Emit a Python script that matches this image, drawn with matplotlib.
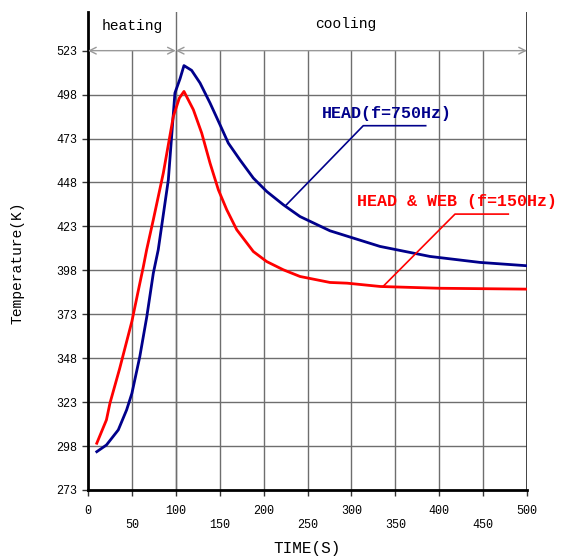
import matplotlib.pyplot as plt
import numpy as np

# readings from the reference
head_t = [10, 21, 34.5, 44, 50, 59, 67, 74.4, 80, 91.5, 99, 104.8, 109.3, 118,
          127.6, 139, 150.3, 159.8, 173, 188.3, 203.5, 222.5, 241.5, 275.6,
          332.6, 389.5, 446.5, 500]
head_T = [294.8, 298.6, 307.2, 318.6, 328, 348.9, 371.7, 396.4, 409.7, 449.5,
          498.9, 507, 514.5, 511.8, 504.6, 493.2, 480.9, 470.4, 460.9, 450.5,
          442.9, 435.3, 428.6, 420.5, 411.6, 405.9, 402.5, 400.6]
web_t = [10, 21, 25, 36, 50, 57.3, 63, 66.8, 74.4, 85.8, 97.2, 104, 109.3, 120,
         129.5, 139, 148.5, 158, 169.4, 188.3, 203.5, 222.5, 241.5, 275.6, 295,
         333, 400, 500]
web_T = [299.6, 312.9, 322.4, 342, 369, 386.5, 400, 409.7, 426.8, 453.4, 485.6,
         496, 499.8, 489.4, 476.1, 459, 443.8, 432.5, 421.1, 408.7, 403, 398.3,
         394.5, 391.1, 390.7, 388.8, 387.8, 387.3]

x_ticks = np.arange(0, 501, 50)
y_ticks = np.arange(273, 524, 25)

mono = ["Liberation Mono", "DejaVu Sans Mono"]
grid_c = "#6e6e6e"
navy = "#00008b"
red = "#ff0000"

fig = plt.figure(figsize=(5.63, 5.56), dpi=100)
ax = fig.add_axes([88 / 563, 66 / 556, (527 - 88) / 563, (490 - 12) / 556])
ax.set_xlim(0, 500)
ax.set_ylim(273, 545)

# grid
for xv in x_ticks[1:-1]:
    ax.plot([xv, xv], [273, 523], color=grid_c, lw=1, zorder=1)
for yv in y_ticks[1:-1]:
    ax.plot([0, 500], [yv, yv], color=grid_c, lw=1, zorder=1)
ax.plot([100, 100], [273, 545], color=grid_c, lw=1, zorder=1)
ax.plot([500, 500], [273, 545], color="#333333", lw=1.3, zorder=1)

# heating / cooling arrows
arr = dict(arrowstyle="<->", color="#999999", lw=1, shrinkA=0, shrinkB=0,
           mutation_scale=12)
ax.annotate("", xy=(0, 523), xytext=(100, 523), arrowprops=arr)
ax.annotate("", xy=(100, 523), xytext=(500, 523), arrowprops=arr)
ax.text(50, 537, "heating", ha="center", va="center", fontsize=10.5, family=mono)
ax.text(294, 538, "cooling", ha="center", va="center", fontsize=10.5, family=mono)

# curves
ax.plot(head_t, head_T, color=navy, lw=2, zorder=3)
ax.plot(web_t, web_T, color=red, lw=2, zorder=3)

# labels with leader lines
ax.plot([226, 313.5, 384.6], [435.3, 480.3, 480.3], color=navy, lw=1.2, zorder=4)
ax.text(266, 487.5, "HEAD(f=750Hz)", color=navy, fontsize=12, fontweight="bold",
        family=mono, va="center", ha="left", clip_on=False)
ax.plot([336, 418, 478.7], [388.8, 430, 430], color=red, lw=1.2, zorder=4)
ax.text(306, 437, "HEAD & WEB (f=150Hz)", color=red, fontsize=12,
        fontweight="bold", family=mono, va="center", ha="left", clip_on=False)

# axes styling
for s in ["top", "right"]:
    ax.spines[s].set_visible(False)
ax.spines["left"].set_linewidth(2)
ax.spines["bottom"].set_linewidth(2)

ax.set_yticks(y_ticks)
ax.set_yticklabels([str(v) for v in y_ticks], family=mono, fontsize=8.5)
ax.set_xticks(x_ticks)
ax.set_xticklabels([str(v) if i % 2 == 0 else "\n" + str(v)
                    for i, v in enumerate(x_ticks)], family=mono, fontsize=8.5)
ax.tick_params(axis="both", direction="out", length=4, width=1, color="#333333")
ax.tick_params(axis="x", pad=7)

ax.set_xlabel("TIME(S)", family=mono, fontsize=11.5)
ax.set_ylabel("Temperature(K)", family=mono, fontsize=10.5)
ax.xaxis.set_label_coords(0.5, -51 / 478)
ax.yaxis.set_label_coords(-64 / 439, 0.475)

fig.savefig("out.png", dpi=100)
